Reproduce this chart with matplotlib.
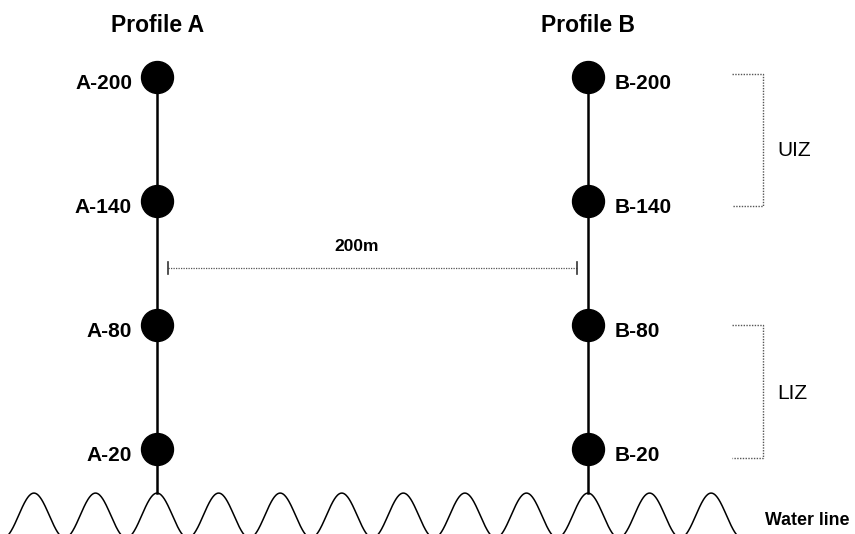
import numpy as np
import matplotlib.pyplot as plt

# ── Data ──────────────────────────────────────────────────────────────────────
PROFILES   = ["A", "B"]
PROFILE_X  = [0, 200]            # distance along shore (m)
HEIGHTS    = [200, 140, 80, 20]  # sampling heights on each profile
SPACING_LABEL = "200m"

ZONE_NAMES  = ["UIZ", "LIZ"]
ZONE_TOP    = [201.5, 80.0]
ZONE_BOTTOM = [137.5, 15.5]
ZONE_LABEL_Y = [161.8, 44.2]

# ── Layout / style ────────────────────────────────────────────────────────────
FONT = "Liberation Sans"
WAVE_PERIOD = 200 / 7
WAVE_PEAK, WAVE_TROUGH = -1.3, -23.0

fig = plt.figure(figsize=(8.55, 5.34), dpi=100)
ax = fig.add_axes([0, 0, 1, 1])
ax.set_xlim(-72.9, 323.9)
ax.set_ylim(-21.1, 237.3)
ax.axis("off")

# ── Water line (decorative wave, peaks under each profile) ───────────────────
xw = np.linspace(-2.5 * WAVE_PERIOD, 9.5 * WAVE_PERIOD, 1500)
mid = (WAVE_PEAK + WAVE_TROUGH) / 2
amp = (WAVE_PEAK - WAVE_TROUGH) / 2
ax.plot(xw, mid + amp * np.cos(2 * np.pi * xw / WAVE_PERIOD),
        color="black", lw=1.1, zorder=2)
ax.text(282.0, -16.7, "Water line", family=FONT, weight="bold",
        fontsize=12.8, ha="left", va="baseline")

# ── Profiles ──────────────────────────────────────────────────────────────────
for name, x in zip(PROFILES, PROFILE_X):
    ax.plot([x, x], [WAVE_PEAK, max(HEIGHTS)], color="black", lw=1.8, zorder=3)
    ax.plot([x] * len(HEIGHTS), HEIGHTS, "o", color="black", ms=23, zorder=4)
    ax.text(x, 221.8, f"Profile {name}", family=FONT, weight="bold",
            fontsize=16.5, ha="center", va="baseline")
    for h in HEIGHTS:
        if name == "A":
            ax.text(x - 11.6, h - 5.8, f"{name}-{h}", family=FONT,
                    weight="bold", fontsize=15, ha="right", va="baseline")
        else:
            ax.text(x + 12.5, h - 5.8, f"{name}-{h}", family=FONT,
                    weight="bold", fontsize=15, ha="left", va="baseline")

# ── Spacing between profiles ─────────────────────────────────────────────────
y_sp = 107.6
x0, x1 = PROFILE_X[0] + 5, PROFILE_X[1] - 5
ax.plot([x0, x1], [y_sp, y_sp], color="#555555", lw=0.9, ls=(0, (1, 1)))
for xe in (x0, x1):
    ax.plot([xe, xe], [y_sp - 2.8, y_sp + 2.8], color="#333333", lw=1.2)
ax.text(92.8, 115.8, SPACING_LABEL, family=FONT, weight="bold",
        fontsize=12.5, ha="center", va="baseline")

# ── Intertidal zone brackets ─────────────────────────────────────────────────
bx0, bx1 = 266.8, 281.2
for name, top, bot, ly in zip(ZONE_NAMES, ZONE_TOP, ZONE_BOTTOM, ZONE_LABEL_Y):
    ax.plot([bx0, bx1, bx1, bx0], [top, top, bot, bot],
            color="#555555", lw=1.0, ls=(0, (1, 1)))
    ax.text(287.7, ly, name, family=FONT, fontsize=15,
            ha="left", va="baseline")

fig.savefig("out.png", dpi=100)
